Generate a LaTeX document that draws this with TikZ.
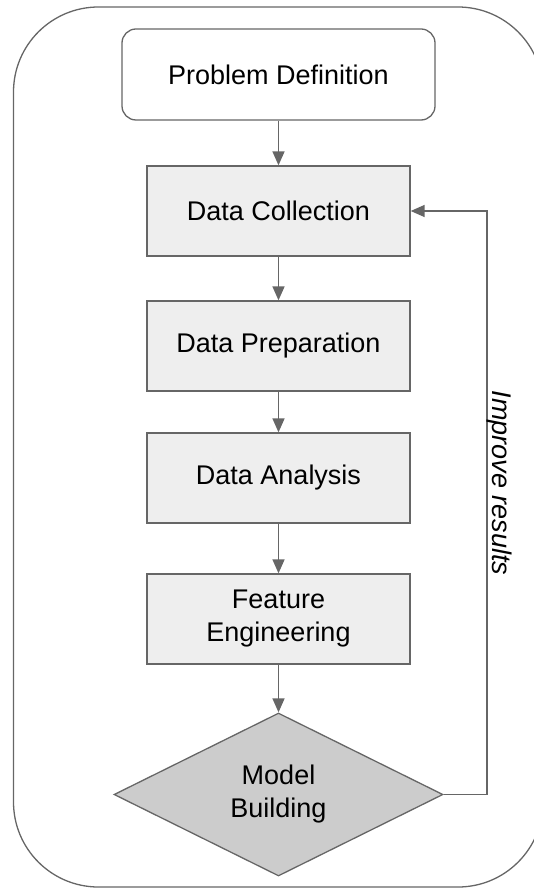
\documentclass[tikz,border=0pt]{standalone}
\usepackage{fontspec}
\setmainfont{Liberation Sans}
\usetikzlibrary{shapes.geometric,arrows.meta}

\definecolor{linegray}{HTML}{666666}
\definecolor{boxgray}{HTML}{EEEEEE}
\definecolor{diagray}{HTML}{CCCCCC}

\tikzset{
  flowtext/.style={font=\fontsize{27}{33}\selectfont, align=center},
  startbox/.style={flowtext, draw=linegray, line width=1.3pt, fill=white,
    rounded corners=14pt, minimum width=313pt, minimum height=91pt},
  stagebox/.style={flowtext, draw=linegray, line width=1.3pt, fill=boxgray,
    minimum width=263pt, minimum height=90pt},
  decision/.style={flowtext, diamond, draw=linegray, line width=1.3pt,
    fill=diagray, minimum width=329pt, minimum height=163pt, inner sep=0pt},
  flow/.style={draw=linegray, line width=1.5pt,
    -{Triangle[length=14pt,width=12pt]}}
}

\begin{document}
\begin{tikzpicture}[x=1pt, y=-1pt]
  \useasboundingbox (0,0) rectangle (534,890);
  % Outer frame
  \draw[linegray, line width=1.3pt, rounded corners=85pt] (13.5,7) rectangle (543,887);
  % Pipeline stages
  \node[startbox] (problem) at (278.5,74.5) {Problem Definition};
  \node[stagebox] (collect) at (278.5,211) {Data Collection};
  \node[stagebox] (prepare) at (278.5,346) {Data Preparation};
  \node[stagebox] (analyse) at (278.5,478) {Data Analysis};
  \node[stagebox] (feature) at (278.5,619) {Feature\\Engineering};
  \node[decision] (model) at (278.5,794.5) {Model\\Building};
  % Arrows down the pipeline
  \draw[flow] (problem) -- (collect);
  \draw[flow] (collect) -- (prepare);
  \draw[flow] (prepare) -- (analyse);
  \draw[flow] (analyse) -- (feature);
  \draw[flow] (feature) -- (model);
  % Loop back from the model
  \coordinate (loop) at (487,794.5);
  \draw[flow] (model.east) -- (loop) |- (collect.east);
  \node[flowtext, rotate=-90, font=\fontsize{27}{33}\selectfont\itshape] (improve) at (499,483) {Improve results};
\end{tikzpicture}
\end{document}
